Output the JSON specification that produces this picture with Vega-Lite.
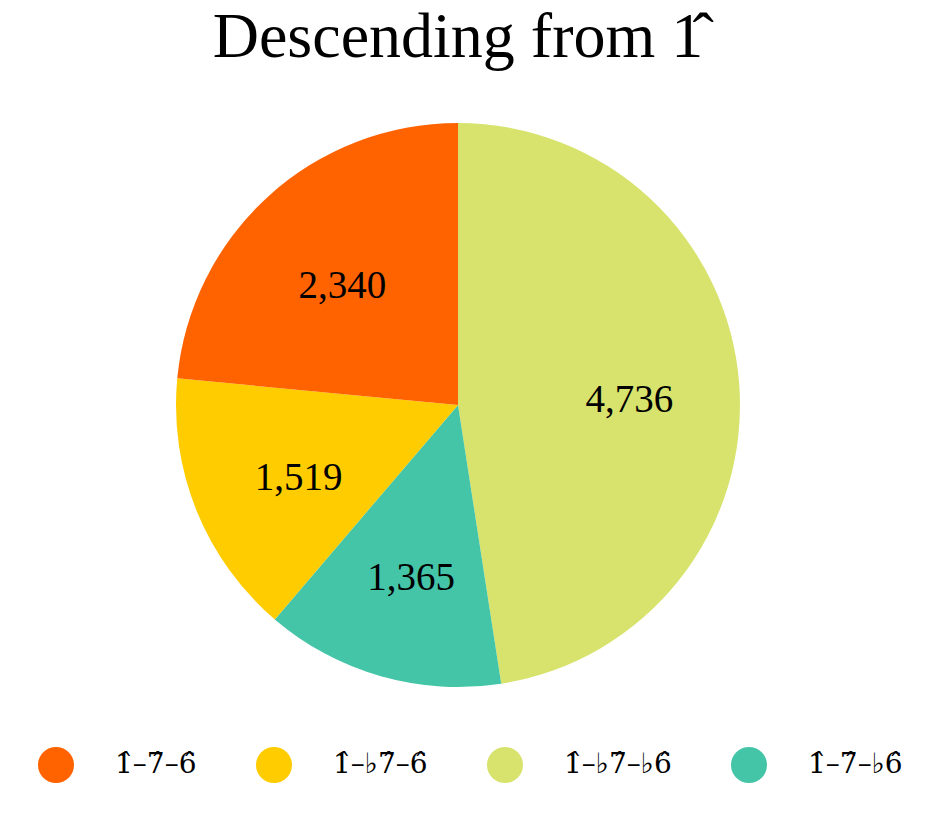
{
  "$schema": "https://vega.github.io/schema/vega-lite/v6.json",
  "autosize": "none",
  "padding": {"left": 176, "top": 123, "right": 204, "bottom": 151},
  "width": 564,
  "height": 564,
  "background": "#ffffff",
  "title": {
    "text": "Descending from 1\u0302",
    "font": "Liberation Serif",
    "fontSize": 64,
    "fontWeight": "normal",
    "color": "#000000",
    "anchor": "middle",
    "baseline": "alphabetic",
    "offset": 2
  },
  "data": {
    "values": [
      {"label": "1\u0302\u2013\u266d7\u0302\u2013\u266d6\u0302", "count": 4736, "rank": 1},
      {"label": "1\u0302\u20137\u0302\u2013\u266d6\u0302", "count": 1365, "rank": 2},
      {"label": "1\u0302\u2013\u266d7\u0302\u20136\u0302", "count": 1519, "rank": 3},
      {"label": "1\u0302\u20137\u0302\u20136\u0302", "count": 2340, "rank": 4}
    ]
  },
  "encoding": {
    "theta": {"field": "count", "type": "quantitative", "stack": true},
    "order": {"field": "rank", "type": "quantitative"}
  },
  "layer": [
    {
      "mark": {"type": "arc", "stroke": null},
      "encoding": {
        "color": {
          "field": "label",
          "type": "nominal",
          "scale": {
            "domain": [
              "1\u0302\u20137\u0302\u20136\u0302",
              "1\u0302\u2013\u266d7\u0302\u20136\u0302",
              "1\u0302\u2013\u266d7\u0302\u2013\u266d6\u0302",
              "1\u0302\u20137\u0302\u2013\u266d6\u0302"
            ],
            "range": ["#ff6300", "#ffcc00", "#d7e36c", "#45c5a8"]
          },
          "legend": {
            "title": null,
            "orient": "none",
            "direction": "horizontal",
            "columns": 4,
            "legendX": -138,
            "legendY": 624,
            "padding": 0,
            "symbolType": "circle",
            "symbolSize": 1296,
            "symbolStrokeWidth": 0,
            "symbolOpacity": 1,
            "labelFont": "DejaVu Serif",
            "labelFontSize": 28,
            "labelColor": "#000000",
            "labelOffset": 41,
            "labelLimit": 300,
            "columnPadding": 59
          }
        }
      }
    },
    {
      "mark": {
        "type": "text",
        "radius": 172,
        "font": "Liberation Serif",
        "fontSize": 39,
        "color": "#000000",
        "align": "center",
        "baseline": "middle",
        "dy": 8
      },
      "encoding": {
        "text": {"field": "count", "type": "quantitative", "format": ","}
      }
    }
  ],
  "config": {"view": {"stroke": null}}
}
